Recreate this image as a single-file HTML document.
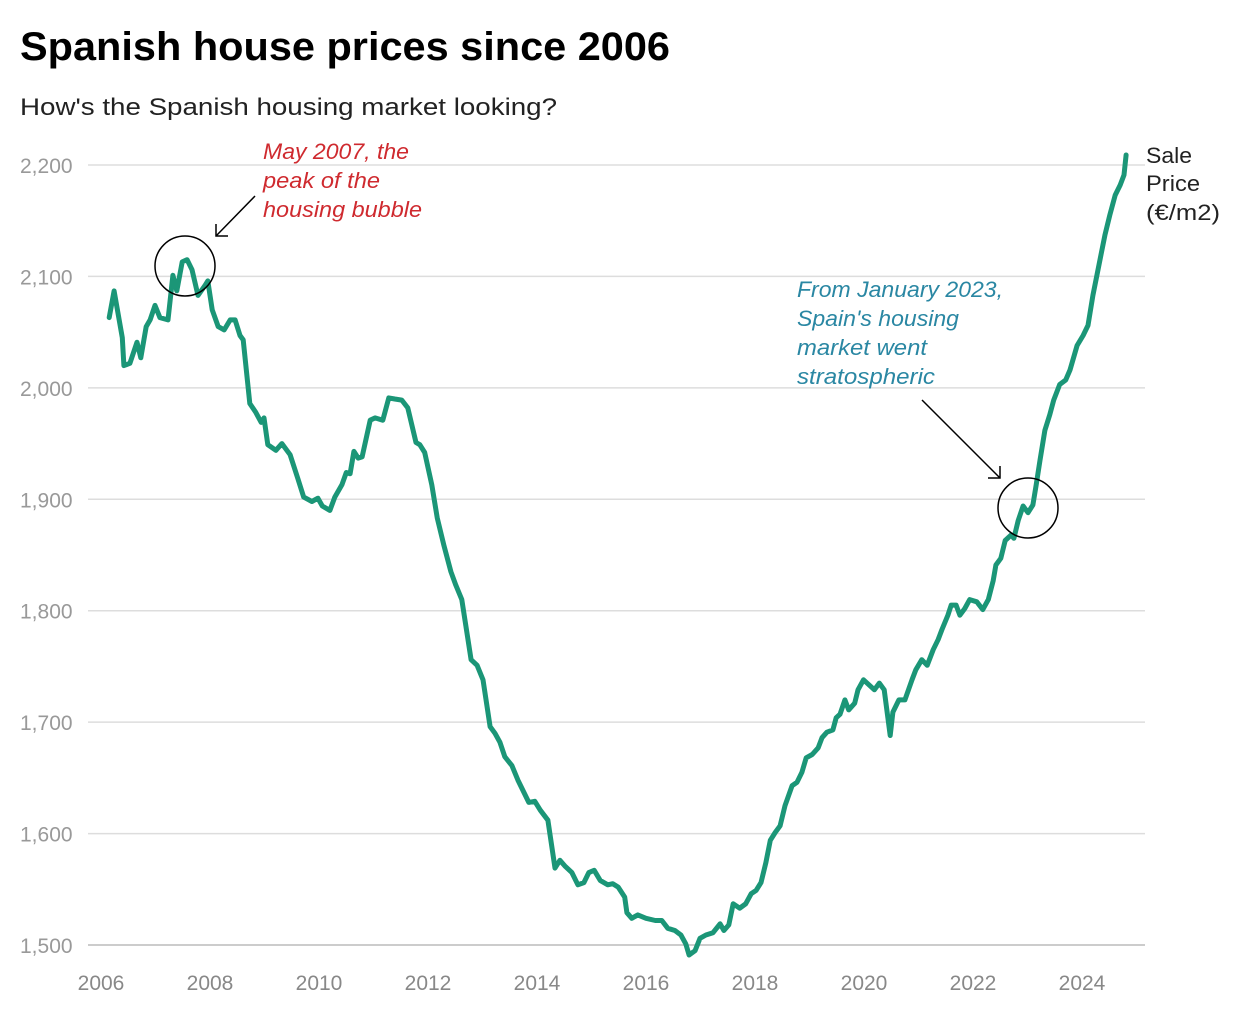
<!DOCTYPE html>
<html><head><meta charset="utf-8"><style>
body{margin:0;background:#fff;font-family:"Liberation Sans",sans-serif}
svg{display:block}
</style></head><body>
<svg id="c" width="1240" height="1024" xmlns="http://www.w3.org/2000/svg">
<text x="20" y="60" font-size="40" font-weight="bold" fill="#000" textLength="650" lengthAdjust="spacingAndGlyphs">Spanish house prices since 2006</text>
<text x="20" y="115" font-size="24" fill="#222" textLength="537" lengthAdjust="spacingAndGlyphs">How's the Spanish housing market looking?</text>
<g id="grid"></g>
<g id="xt"></g>
<path id="line" fill="none" stroke="#1b9677" stroke-width="5" stroke-linejoin="round" stroke-linecap="round"/>
<text font-size="22" fill="#222"><tspan x="1146" y="163" textLength="46" lengthAdjust="spacingAndGlyphs">Sale</tspan><tspan x="1146" y="191" textLength="54" lengthAdjust="spacingAndGlyphs">Price</tspan><tspan x="1146" y="220" textLength="74" lengthAdjust="spacingAndGlyphs">(€/m2)</tspan></text>
<g>
<text font-size="22" font-style="italic" fill="#cf2a2f"><tspan x="263" y="159" textLength="146" lengthAdjust="spacingAndGlyphs">May 2007, the</tspan><tspan x="263" y="188" textLength="117" lengthAdjust="spacingAndGlyphs">peak of the</tspan><tspan x="263" y="217" textLength="159" lengthAdjust="spacingAndGlyphs">housing bubble</tspan></text>
<line x1="255" y1="196" x2="216" y2="236" stroke="#000" stroke-width="1.5"/>
<polyline points="216,224 216,236 228,236" fill="none" stroke="#000" stroke-width="1.5"/>
<circle cx="185" cy="266" r="30" fill="none" stroke="#000" stroke-width="1.5"/>
</g>
<g>
<text font-size="22" font-style="italic" fill="#2a87a3"><tspan x="797" y="297" textLength="206" lengthAdjust="spacingAndGlyphs">From January 2023,</tspan><tspan x="797" y="326" textLength="162" lengthAdjust="spacingAndGlyphs">Spain's housing</tspan><tspan x="797" y="355" textLength="130" lengthAdjust="spacingAndGlyphs">market went</tspan><tspan x="797" y="384" textLength="138" lengthAdjust="spacingAndGlyphs">stratospheric</tspan></text>
<line x1="922" y1="400" x2="1000" y2="478" stroke="#000" stroke-width="1.5"/>
<polyline points="1000,466 1000,478 988,478" fill="none" stroke="#000" stroke-width="1.5"/>
<circle cx="1028" cy="508" r="30" fill="none" stroke="#000" stroke-width="1.5"/>
</g>
</svg>
<script>
const yTicks=[1500,1600,1700,1800,1900,2000,2100,2200];
const xTicks=[2006,2008,2010,2012,2014,2016,2018,2020,2022,2024];
const dates=[2006.15,2006.24,2006.39,2006.42,2006.53,2006.66,2006.73,2006.83,2006.90,2006.99,2007.08,2007.23,2007.32,2007.39,2007.49,2007.58,2007.67,2007.78,2007.91,2007.96,2008.04,2008.15,2008.26,2008.37,2008.46,2008.55,2008.61,2008.73,2008.84,2008.94,2008.99,2009.06,2009.21,2009.32,2009.47,2009.61,2009.72,2009.87,2009.98,2010.06,2010.20,2010.29,2010.42,2010.50,2010.57,2010.64,2010.72,2010.79,2010.94,2011.03,2011.17,2011.28,2011.39,2011.52,2011.63,2011.78,2011.85,2011.94,2012.07,2012.17,2012.29,2012.42,2012.51,2012.62,2012.79,2012.90,2013.01,2013.14,2013.23,2013.32,2013.41,2013.54,2013.65,2013.74,2013.85,2013.96,2014.06,2014.20,2014.33,2014.42,2014.51,2014.64,2014.75,2014.86,2014.95,2015.05,2015.16,2015.30,2015.39,2015.49,2015.61,2015.65,2015.74,2015.85,2016.00,2016.17,2016.29,2016.40,2016.53,2016.64,2016.73,2016.79,2016.90,2016.99,2017.10,2017.23,2017.36,2017.43,2017.52,2017.60,2017.72,2017.83,2017.93,2018.02,2018.11,2018.20,2018.28,2018.37,2018.46,2018.55,2018.68,2018.77,2018.86,2018.94,2019.05,2019.16,2019.23,2019.32,2019.43,2019.49,2019.56,2019.65,2019.72,2019.83,2019.89,2019.99,2020.08,2020.19,2020.28,2020.37,2020.48,2020.53,2020.64,2020.75,2020.88,2020.95,2021.06,2021.16,2021.27,2021.36,2021.43,2021.54,2021.60,2021.69,2021.76,2021.85,2021.94,2022.07,2022.18,2022.28,2022.37,2022.42,2022.51,2022.59,2022.70,2022.75,2022.83,2022.92,2023.01,2023.10,2023.16,2023.23,2023.32,2023.41,2023.48,2023.59,2023.70,2023.78,2023.91,2024.02,2024.11,2024.20,2024.33,2024.42,2024.51,2024.61,2024.70,2024.77,2024.81];
const prices=[2063,2087,2045,2020,2022,2041,2027,2055,2061,2074,2063,2061,2101,2087,2113,2115,2106,2083,2092,2096,2070,2055,2052,2061,2061,2047,2043,1986,1978,1969,1973,1949,1944,1950,1940,1919,1902,1898,1901,1894,1890,1902,1913,1924,1923,1943,1937,1938,1971,1973,1971,1991,1990,1989,1982,1951,1949,1942,1913,1883,1859,1835,1823,1810,1756,1751,1738,1696,1690,1682,1669,1661,1648,1639,1628,1629,1621,1612,1569,1576,1571,1565,1554,1556,1565,1567,1558,1554,1555,1552,1543,1529,1524,1527,1524,1522,1522,1515,1513,1509,1501,1491,1495,1506,1509,1511,1519,1513,1518,1537,1533,1537,1546,1549,1556,1574,1594,1601,1607,1625,1643,1646,1655,1668,1671,1677,1686,1691,1693,1704,1707,1720,1711,1717,1729,1738,1734,1729,1735,1729,1688,1709,1720,1720,1738,1747,1756,1751,1765,1774,1783,1796,1805,1805,1796,1802,1810,1808,1801,1810,1827,1841,1847,1863,1868,1865,1881,1894,1888,1895,1913,1935,1962,1976,1989,2003,2007,2016,2038,2047,2056,2083,2115,2137,2155,2173,2182,2191,2209];
const NS='http://www.w3.org/2000/svg';
const X=t=>101+(t-2006)*54.5;
const Y=v=>945-(v-1500)*1.1143;
const grid=document.getElementById('grid');
yTicks.forEach(v=>{
  const l=document.createElementNS(NS,'line');
  l.setAttribute('x1',88);l.setAttribute('x2',1145);l.setAttribute('y1',Y(v));l.setAttribute('y2',Y(v));
  l.setAttribute('stroke',v===1500?'#bbb':'#ddd');l.setAttribute('stroke-width',1.5);
  
  
  grid.appendChild(l);
  const t=document.createElementNS(NS,'text');
  t.setAttribute('x',20);t.setAttribute('y',Y(v)+8);t.setAttribute('font-size',21);t.setAttribute('fill','#999');
  t.textContent=v.toLocaleString('en-US');
  
  
  grid.appendChild(t);
});
const xt=document.getElementById('xt');
xTicks.forEach(yr=>{
  const t=document.createElementNS(NS,'text');
  t.setAttribute('x',X(yr));t.setAttribute('y',990);t.setAttribute('font-size',21);t.setAttribute('fill','#888');t.setAttribute('text-anchor','middle');
  t.textContent=yr;
  
  
  xt.appendChild(t);
});
document.getElementById('line').setAttribute('d',dates.map((d,i)=>(i?'L':'M')+X(d).toFixed(1)+','+Y(prices[i]).toFixed(1)).join(''));
</script>
</body></html>
